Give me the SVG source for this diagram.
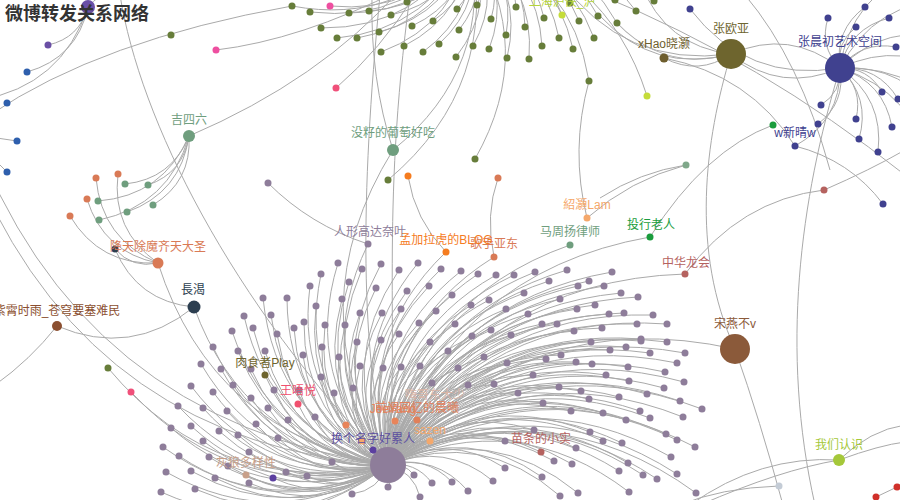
<svg xmlns="http://www.w3.org/2000/svg" width="900" height="500" viewBox="0 0 900 500">
<style>
.e path{fill:none;stroke:#aaa;stroke-width:1;vector-effect:non-scaling-stroke}
.m circle{fill:#8e7d9a}
.o circle{fill:#677d3a}
.b circle{fill:#40418f}
text{font-family:"Liberation Sans","Noto Sans CJK SC",sans-serif;font-size:12px;text-anchor:middle}
</style>
<rect width="900" height="500" fill="#fff"/>
<g id="connectors" class="e">
<!-- main hub edges -->
<path d="M0 0Q.5-.3 1 0" transform="matrix(-50 -202 202 -50 388 465)"/>
<path d="M0 0Q.5-.3 1 0" transform="matrix(-67 -191 191 -67 388 465)"/>
<path d="M0 0Q.5-.3 1 0" transform="matrix(-78 -179 179 -78 388 465)"/>
<path d="M0 0Q.5-.3 1 0" transform="matrix(-26 -196 196 -26 388 465)"/>
<path d="M0 0Q.5-.3 1 0" transform="matrix(-7 -201 201 -7 388 465)"/>
<path d="M0 0Q.5-.3 1 0" transform="matrix(-39 -183 183 -39 388 465)"/>
<path d="M0 0Q.5-.3 1 0" transform="matrix(-12 -177 177 -12 388 465)"/>
<path d="M0 0Q.5-.3 1 0" transform="matrix(11 -195 195 11 388 465)"/>
<path d="M0 0Q.5-.3 1 0" transform="matrix(30 -202 202 30 388 465)"/>
<path d="M0 0Q.5-.3 1 0" transform="matrix(53 -196 196 53 388 465)"/>
<path d="M0 0Q.5-.3 1 0" transform="matrix(73 -194 194 73 388 465)"/>
<path d="M0 0Q.5-.3 1 0" transform="matrix(90 -191 191 90 388 465)"/>
<path d="M0 0Q.5-.3 1 0" transform="matrix(108 -190 190 108 388 465)"/>
<path d="M0 0Q.5-.3 1 0" transform="matrix(126 -190 190 126 388 465)"/>
<path d="M0 0Q.5-.3 1 0" transform="matrix(147 -193 193 147 388 465)"/>
<path d="M0 0Q.5-.3 1 0" transform="matrix(179 -195 195 179 388 465)"/>
<path d="M0 0Q.5-.3 1 0" transform="matrix(201 -184 184 201 388 465)"/>
<path d="M0 0Q.5-.3 1 0" transform="matrix(190 -179 179 190 388 465)"/>
<path d="M0 0Q.5-.3 1 0" transform="matrix(161 -184 184 161 388 465)"/>
<path d="M0 0Q.5-.3 1 0" transform="matrix(136 -172 172 136 388 465)"/>
<path d="M0 0Q.5-.3 1 0" transform="matrix(172 -166 166 172 388 465)"/>
<path d="M0 0Q.5-.3 1 0" transform="matrix(207 -160 160 207 388 465)"/>
<path d="M0 0Q.5-.3 1 0" transform="matrix(189 -156 156 189 388 465)"/>
<path d="M0 0Q.5-.3 1 0" transform="matrix(154 -141 141 154 388 465)"/>
<path d="M0 0Q.5-.3 1 0" transform="matrix(169 -141 141 169 388 465)"/>
<path d="M0 0Q.5-.3 1 0" transform="matrix(186 -134 134 186 388 465)"/>
<path d="M0 0Q.5-.3 1 0" transform="matrix(140 -151 151 140 388 465)"/>
<path d="M0 0Q.5-.3 1 0" transform="matrix(118 -156 156 118 388 465)"/>
<path d="M0 0Q.5-.3 1 0" transform="matrix(101 -165 165 101 388 465)"/>
<path d="M0 0Q.5-.3 1 0" transform="matrix(83 -160 160 83 388 465)"/>
<path d="M0 0Q.5-.3 1 0" transform="matrix(64 -170 170 64 388 465)"/>
<path d="M0 0Q.5-.3 1 0" transform="matrix(41 -179 179 41 388 465)"/>
<path d="M0 0Q.5-.3 1 0" transform="matrix(19 -174 174 19 388 465)"/>
<path d="M0 0Q.5-.3 1 0" transform="matrix(48 -154 154 48 388 465)"/>
<path d="M0 0Q.5-.3 1 0" transform="matrix(67 -141 141 67 388 465)"/>
<path d="M0 0Q.5-.3 1 0" transform="matrix(103 -135 135 103 388 465)"/>
<path d="M0 0Q.5-.3 1 0" transform="matrix(123 -130 130 123 388 465)"/>
<path d="M0 0Q.5-.3 1 0" transform="matrix(84 -129 129 84 388 465)"/>
<path d="M0 0Q.5-.3 1 0" transform="matrix(31 -142 142 31 388 465)"/>
<path d="M0 0Q.5-.3 1 0" transform="matrix(13 -156 156 13 388 465)"/>
<path d="M0 0Q.5-.3 1 0" transform="matrix(-6 -152 152 -6 388 465)"/>
<path d="M0 0Q.5-.3 1 0" transform="matrix(-28 -152 152 -28 388 465)"/>
<path d="M0 0Q.5-.3 1 0" transform="matrix(-46 -166 166 -46 388 465)"/>
<path d="M0 0Q.5-.3 1 0" transform="matrix(-72 -159 159 -72 388 465)"/>
<path d="M0 0Q.5-.3 1 0" transform="matrix(-84 -143 143 -84 388 465)"/>
<path d="M0 0Q.5-.3 1 0" transform="matrix(-63 -140 140 -63 388 465)"/>
<path d="M0 0Q.5-.3 1 0" transform="matrix(-43 -140 140 -43 388 465)"/>
<path d="M0 0Q.5-.3 1 0" transform="matrix(11 -131 131 11 388 465)"/>
<path d="M0 0Q.5-.3 1 0" transform="matrix(-7 -125 125 -7 388 465)"/>
<path d="M0 0Q.5-.3 1 0" transform="matrix(-20 -221 221 -20 388 465)"/>
<path d="M0 0Q.5-.3 1 0" transform="matrix(224 -193 193 224 388 465)"/>
<path d="M0 0Q.5-.3 1 0" transform="matrix(216 -179 179 216 388 465)"/>
<path d="M0 0Q.5-.3 1 0" transform="matrix(233 -172 172 233 388 465)"/>
<path d="M0 0Q.5-.3 1 0" transform="matrix(250 -168 168 250 388 465)"/>
<path d="M0 0Q.5-.3 1 0" transform="matrix(221 -151 151 221 388 465)"/>
<path d="M0 0Q.5-.3 1 0" transform="matrix(236 -152 152 236 388 465)"/>
<path d="M0 0Q.5-.3 1 0" transform="matrix(265 -150 150 265 388 465)"/>
<path d="M0 0Q.5-.3 1 0" transform="matrix(249 -141 141 249 388 465)"/>
<path d="M0 0Q.5-.3 1 0" transform="matrix(279 -141 141 279 388 465)"/>
<path d="M0 0Q.5-.3 1 0" transform="matrix(214 -137 137 214 388 465)"/>
<path d="M0 0Q.5-.3 1 0" transform="matrix(253 -126 126 253 388 465)"/>
<path d="M0 0Q.5-.3 1 0" transform="matrix(203 -123 123 203 388 465)"/>
<path d="M0 0Q.5-.3 1 0" transform="matrix(253 -124 124 253 388 465)"/>
<path d="M0 0Q.5-.3 1 0" transform="matrix(279 -123 123 279 388 465)"/>
<path d="M0 0Q.5-.3 1 0" transform="matrix(222 -115 115 222 388 465)"/>
<path d="M0 0Q.5-.3 1 0" transform="matrix(238 -118 118 238 388 465)"/>
<path d="M0 0Q.5-.3 1 0" transform="matrix(262 -112 112 262 388 465)"/>
<path d="M0 0Q.5-.3 1 0" transform="matrix(297 -112 112 297 388 465)"/>
<path d="M0 0Q.5-.3 1 0" transform="matrix(173 -110 110 173 388 465)"/>
<path d="M0 0Q.5-.3 1 0" transform="matrix(158 -106 106 158 388 465)"/>
<path d="M0 0Q.5-.3 1 0" transform="matrix(188 -103 103 188 388 465)"/>
<path d="M0 0Q.5-.3 1 0" transform="matrix(204 -101 101 204 388 465)"/>
<path d="M0 0Q.5-.3 1 0" transform="matrix(240 -98 98 240 388 465)"/>
<path d="M0 0Q.5-.3 1 0" transform="matrix(289 -102 102 289 388 465)"/>
<path d="M0 0Q.5-.3 1 0" transform="matrix(277 -93 93 277 388 465)"/>
<path d="M0 0Q.5-.3 1 0" transform="matrix(218 -90 90 218 388 465)"/>
<path d="M0 0Q.5-.3 1 0" transform="matrix(145 -90 90 145 388 465)"/>
<path d="M0 0Q.5-.3 1 0" transform="matrix(241 -84 84 241 388 465)"/>
<path d="M0 0Q.5-.3 1 0" transform="matrix(296 -83 83 296 388 465)"/>
<path d="M0 0Q.5-.3 1 0" transform="matrix(171 -78 78 171 388 465)"/>
<path d="M0 0Q.5-.3 1 0" transform="matrix(193 -74 74 193 388 465)"/>
<path d="M0 0Q.5-.3 1 0" transform="matrix(276 -77 77 276 388 465)"/>
<path d="M0 0Q.5-.3 1 0" transform="matrix(259 -71 71 259 388 465)"/>
<path d="M0 0Q.5-.3 1 0" transform="matrix(231 -68 68 231 388 465)"/>
<path d="M0 0Q.5-.3 1 0" transform="matrix(201 -66 66 201 388 465)"/>
<path d="M0 0Q.5-.3 1 0" transform="matrix(292 -64 64 292 388 465)"/>
<path d="M0 0Q.5-.3 1 0" transform="matrix(155 -62 62 155 388 465)"/>
<path d="M0 0Q.5-.3 1 0" transform="matrix(314 -56 56 314 388 465)"/>
<path d="M0 0Q.5-.3 1 0" transform="matrix(183 -54 54 183 388 465)"/>
<path d="M0 0Q.5-.3 1 0" transform="matrix(215 -52 52 215 388 465)"/>
<path d="M0 0Q.5-.3 1 0" transform="matrix(252 -54 54 252 388 465)"/>
<path d="M0 0Q.5-.3 1 0" transform="matrix(295 -48 48 295 388 465)"/>
<path d="M0 0Q.5-.3 1 0" transform="matrix(262 -47 47 262 388 465)"/>
<path d="M0 0Q.5-.3 1 0" transform="matrix(238 -45 45 238 388 465)"/>
<path d="M0 0Q.5-.3 1 0" transform="matrix(146 -35 35 146 388 465)"/>
<path d="M0 0Q.5-.3 1 0" transform="matrix(202 -33 33 202 388 465)"/>
<path d="M0 0Q.5-.3 1 0" transform="matrix(278 -31 31 278 388 465)"/>
<path d="M0 0Q.5-.3 1 0" transform="matrix(289 -25 25 289 388 465)"/>
<path d="M0 0Q.5-.3 1 0" transform="matrix(215 -24 24 215 388 465)"/>
<path d="M0 0Q.5-.3 1 0" transform="matrix(234 -22 22 234 388 465)"/>
<path d="M0 0Q.5-.3 1 0" transform="matrix(307 -18 18 307 388 465)"/>
<path d="M0 0Q.5-.3 1 0" transform="matrix(188 -17 17 188 388 465)"/>
<path d="M0 0Q.5-.3 1 0" transform="matrix(283 -8 8 283 388 465)"/>
<path d="M0 0Q.5-.3 1 0" transform="matrix(166 -4 4 166 388 465)"/>
<path d="M0 0Q.5-.3 1 0" transform="matrix(184 -1 1 184 388 465)"/>
<path d="M0 0Q.5-.3 1 0" transform="matrix(240 -2 2 240 388 465)"/>
<path d="M0 0Q.5-.3 1 0" transform="matrix(231 6 -6 231 388 465)"/>
<path d="M0 0Q.5-.3 1 0" transform="matrix(289 9 -9 289 388 465)"/>
<path d="M0 0Q.5-.3 1 0" transform="matrix(255 10 -10 255 388 465)"/>
<path d="M0 0Q.5-.3 1 0" transform="matrix(269 14 -14 269 388 465)"/>
<path d="M0 0Q.5-.3 1 0" transform="matrix(154 12 -12 154 388 465)"/>
<path d="M0 0Q.5-.3 1 0" transform="matrix(241 27 -27 241 388 465)"/>
<path d="M0 0Q.5-.3 1 0" transform="matrix(308 28 -28 308 388 465)"/>
<path d="M0 0Q.5-.3 1 0" transform="matrix(190 28 -28 190 388 465)"/>
<path d="M0 0Q.5-.3 1 0" transform="matrix(172 31 -31 172 388 465)"/>
<path d="M0 0Q.5-.3 1 0" transform="matrix(-175 -118 118 -175 388 465)"/>
<path d="M0 0Q.5-.3 1 0" transform="matrix(-150 -114 114 -150 388 465)"/>
<path d="M0 0Q.5-.3 1 0" transform="matrix(-123 -114 114 -123 388 465)"/>
<path d="M0 0Q.5-.3 1 0" transform="matrix(-187 -101 101 -187 388 465)"/>
<path d="M0 0Q.5-.3 1 0" transform="matrix(-167 -96 96 -167 388 465)"/>
<path d="M0 0Q.5-.3 1 0" transform="matrix(-137 -96 96 -137 388 465)"/>
<path d="M0 0Q.5-.3 1 0" transform="matrix(-197 -79 79 -197 388 465)"/>
<path d="M0 0Q.5-.3 1 0" transform="matrix(-155 -80 80 -155 388 465)"/>
<path d="M0 0Q.5-.3 1 0" transform="matrix(-175 -73 73 -175 388 465)"/>
<path d="M0 0Q.5-.3 1 0" transform="matrix(-114 -75 75 -114 388 465)"/>
<path d="M0 0Q.5-.3 1 0" transform="matrix(-89 -75 75 -89 388 465)"/>
<path d="M0 0Q.5-.3 1 0" transform="matrix(-210 -59 59 -210 388 465)"/>
<path d="M0 0Q.5-.3 1 0" transform="matrix(-185 -57 57 -185 388 465)"/>
<path d="M0 0Q.5-.3 1 0" transform="matrix(-161 -54 54 -161 388 465)"/>
<path d="M0 0Q.5-.3 1 0" transform="matrix(-137 -67 67 -137 388 465)"/>
<path d="M0 0Q.5-.3 1 0" transform="matrix(-120 -57 57 -120 388 465)"/>
<path d="M0 0Q.5-.3 1 0" transform="matrix(-100 -45 45 -100 388 465)"/>
<path d="M0 0Q.5-.3 1 0" transform="matrix(-73 -48 48 -73 388 465)"/>
<path d="M0 0Q.5-.3 1 0" transform="matrix(-217 -37 37 -217 388 465)"/>
<path d="M0 0Q.5-.3 1 0" transform="matrix(-197 -39 39 -197 388 465)"/>
<path d="M0 0Q.5-.3 1 0" transform="matrix(-169 -34 34 -169 388 465)"/>
<path d="M0 0Q.5-.3 1 0" transform="matrix(-150 -30 30 -150 388 465)"/>
<path d="M0 0Q.5-.3 1 0" transform="matrix(-132 -41 41 -132 388 465)"/>
<path d="M0 0Q.5-.3 1 0" transform="matrix(-110 -27 27 -110 388 465)"/>
<path d="M0 0Q.5-.3 1 0" transform="matrix(-185 -24 24 -185 388 465)"/>
<path d="M0 0Q.5-.3 1 0" transform="matrix(-225 -18 18 -225 388 465)"/>
<path d="M0 0Q.5-.3 1 0" transform="matrix(-209 -9 9 -209 388 465)"/>
<path d="M0 0Q.5-.3 1 0" transform="matrix(-179 -8 8 -179 388 465)"/>
<path d="M0 0Q.5-.3 1 0" transform="matrix(-139 -13 13 -139 388 465)"/>
<path d="M0 0Q.5-.3 1 0" transform="matrix(-160 1 -1 -160 388 465)"/>
<path d="M0 0Q.5-.3 1 0" transform="matrix(-56 -3 3 -56 388 465)"/>
<path d="M0 0Q.5-.3 1 0" transform="matrix(-102 7 -7 -102 388 465)"/>
<path d="M0 0Q.5-.3 1 0" transform="matrix(-81 11 -11 -81 388 465)"/>
<path d="M0 0Q.5-.3 1 0" transform="matrix(-139 18 -18 -139 388 465)"/>
<path d="M0 0Q.5-.3 1 0" transform="matrix(-222 7 -7 -222 388 465)"/>
<path d="M0 0Q.5-.3 1 0" transform="matrix(-197 6 -6 -197 388 465)"/>
<path d="M0 0Q.5-.3 1 0" transform="matrix(-173 13 -13 -173 388 465)"/>
<path d="M0 0Q.5-.3 1 0" transform="matrix(-227 27 -27 -227 388 465)"/>
<path d="M0 0Q.5-.3 1 0" transform="matrix(-193 24 -24 -193 388 465)"/>
<path d="M0 0Q.5-.3 1 0" transform="matrix(-85 -110 110 -85 388 465)"/>
<path d="M0 0Q.5-.3 1 0" transform="matrix(-66 -118 118 -66 388 465)"/>
<path d="M0 0Q.5-.3 1 0" transform="matrix(-49 -108 108 -49 388 465)"/>
<path d="M0 0Q.5-.3 1 0" transform="matrix(-54 -72 72 -54 388 465)"/>
<path d="M0 0Q.5-.3 1 0" transform="matrix(-67 -88 88 -67 388 465)"/>
<path d="M0 0Q.5-.3 1 0" transform="matrix(-31 -123 123 -31 388 465)"/>
<path d="M0 0Q.5-.3 1 0" transform="matrix(42 -123 123 42 388 465)"/>
<path d="M0 0Q.5-.3 1 0" transform="matrix(-28 -99 99 -28 388 465)"/>
<path d="M0 0Q.5-.3 1 0" transform="matrix(-5 -97 97 -5 388 465)"/>
<path d="M0 0Q.5-.3 1 0" transform="matrix(13 -98 98 13 388 465)"/>
<path d="M0 0Q.5-.3 1 0" transform="matrix(32 -99 99 32 388 465)"/>
<path d="M0 0Q.5-.3 1 0" transform="matrix(60 -114 114 60 388 465)"/>
<path d="M0 0Q.5-.3 1 0" transform="matrix(70 -97 97 70 388 465)"/>
<path d="M0 0Q.5-.3 1 0" transform="matrix(96 -108 108 96 388 465)"/>
<path d="M0 0Q.5-.3 1 0" transform="matrix(119 -102 102 119 388 465)"/>
<path d="M0 0Q.5-.3 1 0" transform="matrix(44 -82 82 44 388 465)"/>
<path d="M0 0Q.5-.3 1 0" transform="matrix(80 -80 80 80 388 465)"/>
<path d="M0 0Q.5-.3 1 0" transform="matrix(106 -81 81 106 388 465)"/>
<path d="M0 0Q.5-.3 1 0" transform="matrix(130 -72 72 130 388 465)"/>
<path d="M0 0Q.5-.3 1 0" transform="matrix(-35 -77 77 -35 388 465)"/>
<path d="M0 0Q.5-.3 1 0" transform="matrix(117 -24 24 117 388 465)"/>
<path d="M0 0Q.5-.3 1 0" transform="matrix(117 3 -3 117 388 465)"/>
<path d="M0 0Q.5-.3 1 0" transform="matrix(105 16 -16 105 388 465)"/>
<path d="M0 0Q.5-.3 1 0" transform="matrix(80 26 -26 80 388 465)"/>
<path d="M0 0Q.5-.3 1 0" transform="matrix(64 17 -17 64 388 465)"/>
<path d="M0 0Q.5-.3 1 0" transform="matrix(44 18 -18 44 388 465)"/>
<path d="M0 0Q.5-.3 1 0" transform="matrix(26 10 -10 26 388 465)"/>
<path d="M0 0Q.5-.3 1 0" transform="matrix(0 22 -22 0 388 465)"/>
<path d="M0 0Q.5-.3 1 0" transform="matrix(-125 -167 167 -125 388 465)"/>
<path d="M0 0Q.5-.3 1 0" transform="matrix(-101 -167 167 -101 388 465)"/>
<path d="M0 0Q.5-.3 1 0" transform="matrix(-144 -149 149 -144 388 465)"/>
<path d="M0 0Q.5-.3 1 0" transform="matrix(-117 -150 150 -117 388 465)"/>
<path d="M0 0Q.5-.3 1 0" transform="matrix(-135 -137 137 -135 388 465)"/>
<path d="M0 0Q.5-.3 1 0" transform="matrix(-156 -134 134 -156 388 465)"/>
<path d="M0 0Q.5-.3 1 0" transform="matrix(-111 -131 131 -111 388 465)"/>
<path d="M0 0Q.5-.3 1 0" transform="matrix(-94 -137 137 -94 388 465)"/>
<path d="M0 0Q.5-.3 1 0" transform="matrix(-36 29 -29 -36 388 465)"/>
<path d="M0 0Q.5-.3 1 0" transform="matrix(32 32 -32 32 388 465)"/>
<path d="M0 0Q.5-.3 1 0" transform="matrix(-123 -90 90 -123 388 465)"/>
<path d="M0 0Q.5-.3 1 0" transform="matrix(-90 -61 61 -90 388 465)"/>
<path d="M0 0Q.5-.3 1 0" transform="matrix(-142 10 -10 -142 388 465)"/>
<path d="M0 0Q.5-.3 1 0" transform="matrix(-15 -15 15 -15 388 465)"/>
<path d="M0 0Q.5-.3 1 0" transform="matrix(153 -13 13 153 388 465)"/>
<path d="M0 0Q.5-.3 1 0" transform="matrix(42 -24 24 42 388 465)"/>
<path d="M0 0Q.5-.3 1 0" transform="matrix(7 -44 44 7 388 465)"/>
<path d="M0 0Q.5-.3 1 0" transform="matrix(29 -45 45 29 388 465)"/>
<path d="M0 0Q.5-.3 1 0" transform="matrix(-42 -40 40 -42 388 465)"/>
<path d="M0 0Q.5-.3 1 0" transform="matrix(-26 -24 24 -26 388 465)"/>
<path d="M0 0Q.5-.3 1 0" transform="matrix(58 -213 213 58 388 465)"/>
<path d="M0 0Q.5-.3 1 0" transform="matrix(106 -208 208 106 388 465)"/>
<path d="M0 0Q.5-.3 1 0" transform="matrix(182 -220 220 182 388 465)"/>
<path d="M0 0Q.5-.3 1 0" transform="matrix(262 -228 228 262 388 465)"/>
<path d="M0 0Q.5-.3 1 0" transform="matrix(297 -191 191 297 388 465)"/>
<path d="M0 0Q.5-.3 1 0" transform="matrix(347 -116 116 347 388 465)"/>
<path d="M0 0Q.5-.3 1 0" transform="matrix(-230 -202 202 -230 388 465)"/>
<path d="M0 0Q.5-.3 1 0" transform="matrix(-194 -158 158 -194 388 465)"/>
<path d="M0 0Q.5-.3 1 0" transform="matrix(5 -315 315 5 388 465)"/>
<path d="M0 0Q.5-.3 1 0" transform="matrix(-280 -97 97 -280 388 465)"/>
<path d="M0 0Q.5-.3 1 0" transform="matrix(-257 -73 73 -257 388 465)"/>
<path d="M0 0Q.5-.3 1 0" transform="matrix(-115 13 -13 -115 388 465)"/>
<path d="M0 0Q.5-.3 1 0" transform="matrix(-408 -285 285 -408 388 465)"/>
<path d="M0 0Q.5-.3 1 0" transform="matrix(-418 -340 340 -418 388 465)"/>
<!-- top olive hub edges (hub off-canvas) -->
<path d="M0 0Q.5-.3 1 0" transform="matrix(-160 72 -72 -160 470 -60)"/>
<path d="M0 0Q.5-.3 1 0" transform="matrix(-121 73 -73 -121 470 -60)"/>
<path d="M0 0Q.5-.3 1 0" transform="matrix(-101 71 -71 -101 470 -60)"/>
<path d="M0 0Q.5-.3 1 0" transform="matrix(-149 88 -88 -149 470 -60)"/>
<path d="M0 0Q.5-.3 1 0" transform="matrix(-133 98 -98 -133 470 -60)"/>
<path d="M0 0Q.5-.3 1 0" transform="matrix(-113 98 -98 -113 470 -60)"/>
<path d="M0 0Q.5-.3 1 0" transform="matrix(-79 75 -75 -79 470 -60)"/>
<path d="M0 0Q.5-.3 1 0" transform="matrix(-63 62 -62 -63 470 -60)"/>
<path d="M0 0Q.5-.3 1 0" transform="matrix(-91 92 -92 -91 470 -60)"/>
<path d="M0 0Q.5-.3 1 0" transform="matrix(-58 86 -86 -58 470 -60)"/>
<path d="M0 0Q.5-.3 1 0" transform="matrix(-37 81 -81 -37 470 -60)"/>
<path d="M0 0Q.5-.3 1 0" transform="matrix(-89 112 -112 -89 470 -60)"/>
<path d="M0 0Q.5-.3 1 0" transform="matrix(-66 106 -106 -66 470 -60)"/>
<path d="M0 0Q.5-.3 1 0" transform="matrix(-47 112 -112 -47 470 -60)"/>
<path d="M0 0Q.5-.3 1 0" transform="matrix(-31 104 -104 -31 470 -60)"/>
<path d="M0 0Q.5-.3 1 0" transform="matrix(-13 69 -69 -13 470 -60)"/>
<path d="M0 0Q.5-.3 1 0" transform="matrix(-11 90 -90 -11 470 -60)"/>
<path d="M0 0Q.5-.3 1 0" transform="matrix(-14 117 -117 -14 470 -60)"/>
<path d="M0 0Q.5-.3 1 0" transform="matrix(7 65 -65 7 470 -60)"/>
<path d="M0 0Q.5-.3 1 0" transform="matrix(3 106 -106 3 470 -60)"/>
<path d="M0 0Q.5-.3 1 0" transform="matrix(21 79 -79 21 470 -60)"/>
<path d="M0 0Q.5-.3 1 0" transform="matrix(19 109 -109 19 470 -60)"/>
<path d="M0 0Q.5-.3 1 0" transform="matrix(36 95 -95 36 470 -60)"/>
<path d="M0 0Q.5-.3 1 0" transform="matrix(37 118 -118 37 470 -60)"/>
<path d="M0 0Q.5-.3 1 0" transform="matrix(46 67 -67 46 470 -60)"/>
<path d="M0 0Q.5-.3 1 0" transform="matrix(55 87 -87 55 470 -60)"/>
<path d="M0 0Q.5-.3 1 0" transform="matrix(59 119 -119 59 470 -60)"/>
<path d="M0 0Q.5-.3 1 0" transform="matrix(74 78 -78 74 470 -60)"/>
<path d="M0 0Q.5-.3 1 0" transform="matrix(72 106 -106 72 470 -60)"/>
<path d="M0 0Q.5-.3 1 0" transform="matrix(89 98 -98 89 470 -60)"/>
<path d="M0 0Q.5-.3 1 0" transform="matrix(103 109 -109 103 470 -60)"/>
<path d="M0 0Q.5-.3 1 0" transform="matrix(109 81 -81 109 470 -60)"/>
<path d="M0 0Q.5-.3 1 0" transform="matrix(124 98 -98 124 470 -60)"/>
<path d="M0 0Q.5-.3 1 0" transform="matrix(128 76 -76 128 470 -60)"/>
<path d="M0 0Q.5-.3 1 0" transform="matrix(119 141 -141 119 470 -60)"/>
<path d="M0 0Q.5-.3 1 0" transform="matrix(145 60 -60 145 470 -60)"/>
<path d="M0 0Q.5-.3 1 0" transform="matrix(166 71 -71 166 470 -60)"/>
<path d="M0 0Q.5-.3 1 0" transform="matrix(184 61 -61 184 470 -60)"/>
<path d="M0 0Q.5-.3 1 0" transform="matrix(147 83 -83 147 470 -60)"/>
<path d="M0 0Q.5-.3 1 0" transform="matrix(-178 66 -66 -178 470 -60)"/>
<path d="M0 0Q.5-.3 1 0" transform="matrix(5 219 -219 5 470 -60)"/>
<path d="M0 0Q.5-.3 1 0" transform="matrix(-82 240 -240 -82 470 -60)"/>
<path d="M0 0Q.5-.3 1 0" transform="matrix(177 156 -156 177 470 -60)"/>
<path d="M0 0Q.5-.3 1 0" transform="matrix(92 75 -75 92 470 -60)"/>
<path d="M0 0Q.5-.3 1 0" transform="matrix(100 63 -63 100 470 -60)"/>
<path d="M0 0Q.5-.3 1 0" transform="matrix(-140 66 -66 -140 470 -60)"/>
<path d="M0 0Q.5-.3 1 0" transform="matrix(-77 210 -210 -77 470 -60)"/>
<!-- 张晨初艺术空间 edges -->
<path d="M0 0Q.5-.3 1 0" transform="matrix(-12 -50 50 -12 840 68)"/>
<path d="M0 0Q.5-.3 1 0" transform="matrix(25 -61 61 25 840 68)"/>
<path d="M0 0Q.5-.3 1 0" transform="matrix(16 -41 41 16 840 68)"/>
<path d="M0 0Q.5-.3 1 0" transform="matrix(49 -50 50 49 840 68)"/>
<path d="M0 0Q.5-.3 1 0" transform="matrix(56 -21 21 56 840 68)"/>
<path d="M0 0Q.5-.3 1 0" transform="matrix(42 24 -24 42 840 68)"/>
<path d="M0 0Q.5-.3 1 0" transform="matrix(58 31 -31 58 840 68)"/>
<path d="M0 0Q.5-.3 1 0" transform="matrix(52 59 -59 52 840 68)"/>
<path d="M0 0Q.5-.3 1 0" transform="matrix(-19 37 -37 -19 840 68)"/>
<path d="M0 0Q.5-.3 1 0" transform="matrix(-22 56 -56 -22 840 68)"/>
<path d="M0 0Q.5-.3 1 0" transform="matrix(16 51 -51 16 840 68)"/>
<path d="M0 0Q.5-.3 1 0" transform="matrix(19 71 -71 19 840 68)"/>
<path d="M0 0Q.5-.3 1 0" transform="matrix(38 84 -84 38 840 68)"/>
<path d="M0 0Q.5-.3 1 0" transform="matrix(-45 78 -78 -45 840 68)"/>
<path d="M0 0Q.5-.3 1 0" transform="matrix(-150 -59 59 -150 840 68)"/>
<path d="M0 0Q.5-.3 1 0" transform="matrix(110 -28 28 110 840 68)"/>
<path d="M0 0Q.5-.3 1 0" transform="matrix(120 12 -12 120 840 68)"/>
<path d="M0 0Q.5-.3 1 0" transform="matrix(100 52 -52 100 840 68)"/>
<path d="M0 0Q.5-.3 1 0" transform="matrix(90 102 -102 90 840 68)"/>
<path d="M0 0Q.5-.3 1 0" transform="matrix(80 -98 98 80 840 68)"/>
<path d="M0 0Q.5-.3 1 0" transform="matrix(110 -68 68 110 840 68)"/>
<path d="M0 0Q.5-.3 1 0" transform="matrix(130 72 -72 130 840 68)"/>
<path d="M0 0Q.5-.3 1 0" transform="matrix(-109 -14 14 -109 840 68)"/>
<!-- 张欧亚 edges -->
<path d="M0 0Q.5-.3 1 0" transform="matrix(109 14 -14 109 731 54)"/>
<path d="M0 0Q.5-.3 1 0" transform="matrix(-67 4 -4 -67 731 54)"/>
<path d="M0 0Q.5-.3 1 0" transform="matrix(-131 -38 38 -131 731 54)"/>
<path d="M0 0Q.5-.3 1 0" transform="matrix(-114 -31 31 -114 731 54)"/>
<path d="M0 0Q.5-.3 1 0" transform="matrix(-171 -74 74 -171 731 54)"/>
<path d="M0 0Q.5-.3 1 0" transform="matrix(-90 -70 70 -90 731 54)"/>
<!-- 吉四六 -->
<path d="M0 0Q.5-.3 1 0" transform="matrix(-64 48 -48 -64 189 136)"/>
<path d="M0 0Q.5-.3 1 0" transform="matrix(-41 49 -49 -41 189 136)"/>
<path d="M0 0Q.5-.3 1 0" transform="matrix(-91 65 -65 -91 189 136)"/>
<path d="M0 0Q.5-.3 1 0" transform="matrix(-62 76 -76 -62 189 136)"/>
<path d="M0 0Q.5-.3 1 0" transform="matrix(-36 69 -69 -36 189 136)"/>
<path d="M0 0Q.5-.3 1 0" transform="matrix(-90 84 -84 -90 189 136)"/>
<!-- 降天除魔齐天大圣 -->
<path d="M0 0Q.5-.3 1 0" transform="matrix(-62 -85 85 -62 158 263)"/>
<path d="M0 0Q.5-.3 1 0" transform="matrix(-40 -89 89 -40 158 263)"/>
<path d="M0 0Q.5-.3 1 0" transform="matrix(-71 -64 64 -71 158 263)"/>
<path d="M0 0Q.5-.3 1 0" transform="matrix(-88 -47 47 -88 158 263)"/>
<path d="M0 0Q.5-.3 1 0" transform="matrix(-43 -14 14 -43 158 263)"/>
<!-- 長渴 -->
<path d="M0 0Q.5-.3 1 0" transform="matrix(-79 -58 58 -79 194 307)"/>
<path d="M0 0Q.5-.3 1 0" transform="matrix(-137 19 -19 -137 194 307)"/>
<!-- top-left purple -->
<path d="M0 0Q.5-.3 1 0" transform="matrix(-40 38 -38 -40 88 7)"/>
<path d="M0 0Q.5-.3 1 0" transform="matrix(-61 65 -65 -61 88 7)"/>
<path d="M0 0Q.5-.3 1 0" transform="matrix(-108 93 -93 -108 88 7)"/>
<path d="M0 0Q.5-.3 1 0" transform="matrix(52 -17 17 52 88 7)"/>
<!-- assorted long edges -->
<path d="M-10 115Q100 40 292 6"/>
<path d="M-10 137L17 141"/>
<path d="M-5 160L7 172"/>
<path d="M216 50Q300 40 400 -10"/>
<path d="M336 88Q380 50 415 -5"/>
<path d="M189 136Q320 80 400 -10"/>
<path d="M393 150Q370 80 372 -5"/>
<path d="M388 465C360 350 360 200 380 -5"/>
<path d="M388 465C400 330 380 220 410 -5"/>
<path d="M120 -5C140 120 230 300 388 465"/>
<path d="M268 183Q310 225 368 244"/>
<path d="M57 326Q30 360 -5 385"/>
<path d="M408 176Q415 220 446 252"/>
<path d="M498 178Q485 215 494 257"/>
<path d="M587 218Q570 150 589 81"/>
<path d="M587 218Q630 180 686 165"/>
<path d="M686 165Q640 172 600 198"/>
<path d="M773 125Q705 150 650 237"/>
<path d="M685 274Q740 200 824 190"/>
<path d="M664 58Q750 75 795 146"/>
<path d="M795 146Q850 160 883 204"/>
<path d="M824 190Q870 170 905 150"/>
<path d="M735 349Q760 420 783 505"/>
<path d="M840 68C800 200 780 350 815 505"/>
<path d="M731 54C705 140 690 250 735 349"/>
<path d="M600 -5Q760 60 905 175"/>
<path d="M745 -5Q800 60 830 170"/>
<path d="M839 460Q760 455 690 505"/>
<path d="M779 486Q720 488 680 505"/>
<path d="M839 460Q870 430 905 425"/>
<path d="M839 460Q880 445 905 442"/>
<path d="M876 497L897 487L905 480"/>
<path d="M700 505Q780 470 839 460"/>
</g>
<g id="main-leaves" class="m">
<circle cx="338" cy="263" r="3.5"/><circle cx="321" cy="274" r="3.5"/><circle cx="310" cy="286" r="3.5"/><circle cx="362" cy="269" r="3.5"/><circle cx="381" cy="264" r="3.5"/><circle cx="349" cy="282" r="3.5"/><circle cx="376" cy="288" r="3.5"/><circle cx="399" cy="270" r="3.5"/><circle cx="418" cy="263" r="3.5"/><circle cx="441" cy="269" r="3.5"/><circle cx="461" cy="271" r="3.5"/><circle cx="478" cy="274" r="3.5"/><circle cx="496" cy="275" r="3.5"/><circle cx="514" cy="275" r="3.5"/><circle cx="535" cy="272" r="3.5"/><circle cx="567" cy="270" r="3.5"/><circle cx="589" cy="281" r="3.5"/><circle cx="578" cy="286" r="3.5"/><circle cx="549" cy="281" r="3.5"/><circle cx="524" cy="293" r="3.5"/><circle cx="560" cy="299" r="3.5"/><circle cx="595" cy="305" r="3.5"/><circle cx="577" cy="309" r="3.5"/><circle cx="542" cy="324" r="3.5"/><circle cx="557" cy="324" r="3.5"/><circle cx="574" cy="331" r="3.5"/><circle cx="528" cy="314" r="3.5"/><circle cx="506" cy="309" r="3.5"/><circle cx="489" cy="300" r="3.5"/><circle cx="471" cy="305" r="3.5"/><circle cx="452" cy="295" r="3.5"/><circle cx="429" cy="286" r="3.5"/><circle cx="407" cy="291" r="3.5"/><circle cx="436" cy="311" r="3.5"/><circle cx="455" cy="324" r="3.5"/><circle cx="491" cy="330" r="3.5"/><circle cx="511" cy="335" r="3.5"/><circle cx="472" cy="336" r="3.5"/><circle cx="419" cy="323" r="3.5"/><circle cx="401" cy="309" r="3.5"/><circle cx="382" cy="313" r="3.5"/><circle cx="360" cy="313" r="3.5"/><circle cx="342" cy="299" r="3.5"/><circle cx="316" cy="306" r="3.5"/><circle cx="304" cy="322" r="3.5"/><circle cx="325" cy="325" r="3.5"/><circle cx="345" cy="325" r="3.5"/><circle cx="399" cy="334" r="3.5"/><circle cx="381" cy="340" r="3.5"/>
<circle cx="612" cy="272" r="3.5"/><circle cx="604" cy="286" r="3.5"/><circle cx="621" cy="293" r="3.5"/><circle cx="638" cy="297" r="3.5"/><circle cx="609" cy="314" r="3.5"/><circle cx="624" cy="313" r="3.5"/><circle cx="653" cy="315" r="3.5"/><circle cx="637" cy="324" r="3.5"/><circle cx="667" cy="324" r="3.5"/><circle cx="602" cy="328" r="3.5"/><circle cx="641" cy="339" r="3.5"/>
<circle cx="591" cy="342" r="3.5"/><circle cx="641" cy="341" r="3.5"/><circle cx="667" cy="342" r="3.5"/><circle cx="610" cy="350" r="3.5"/><circle cx="626" cy="347" r="3.5"/><circle cx="650" cy="353" r="3.5"/><circle cx="685" cy="353" r="3.5"/><circle cx="561" cy="355" r="3.5"/><circle cx="546" cy="359" r="3.5"/><circle cx="576" cy="362" r="3.5"/><circle cx="592" cy="364" r="3.5"/><circle cx="628" cy="367" r="3.5"/><circle cx="677" cy="363" r="3.5"/><circle cx="665" cy="372" r="3.5"/><circle cx="606" cy="375" r="3.5"/><circle cx="533" cy="375" r="3.5"/><circle cx="629" cy="381" r="3.5"/><circle cx="684" cy="382" r="3.5"/><circle cx="559" cy="387" r="3.5"/><circle cx="581" cy="391" r="3.5"/><circle cx="664" cy="388" r="3.5"/><circle cx="647" cy="394" r="3.5"/><circle cx="619" cy="397" r="3.5"/><circle cx="589" cy="399" r="3.5"/><circle cx="680" cy="401" r="3.5"/><circle cx="543" cy="403" r="3.5"/><circle cx="702" cy="409" r="3.5"/><circle cx="571" cy="411" r="3.5"/><circle cx="603" cy="413" r="3.5"/><circle cx="640" cy="411" r="3.5"/><circle cx="683" cy="417" r="3.5"/><circle cx="650" cy="418" r="3.5"/><circle cx="626" cy="420" r="3.5"/><circle cx="534" cy="430" r="3.5"/><circle cx="590" cy="432" r="3.5"/><circle cx="666" cy="434" r="3.5"/><circle cx="677" cy="440" r="3.5"/><circle cx="603" cy="441" r="3.5"/><circle cx="622" cy="443" r="3.5"/><circle cx="695" cy="447" r="3.5"/><circle cx="576" cy="448" r="3.5"/><circle cx="671" cy="457" r="3.5"/><circle cx="554" cy="461" r="3.5"/><circle cx="572" cy="464" r="3.5"/><circle cx="628" cy="463" r="3.5"/><circle cx="619" cy="471" r="3.5"/><circle cx="677" cy="474" r="3.5"/><circle cx="643" cy="475" r="3.5"/><circle cx="657" cy="479" r="3.5"/><circle cx="542" cy="477" r="3.5"/><circle cx="629" cy="492" r="3.5"/><circle cx="696" cy="493" r="3.5"/><circle cx="578" cy="493" r="3.5"/><circle cx="560" cy="496" r="3.5"/>
<circle cx="213" cy="347" r="3.5"/><circle cx="238" cy="351" r="3.5"/><circle cx="265" cy="351" r="3.5"/><circle cx="201" cy="364" r="3.5"/><circle cx="221" cy="369" r="3.5"/><circle cx="251" cy="369" r="3.5"/><circle cx="191" cy="386" r="3.5"/><circle cx="233" cy="385" r="3.5"/><circle cx="213" cy="392" r="3.5"/><circle cx="274" cy="390" r="3.5"/><circle cx="299" cy="390" r="3.5"/><circle cx="178" cy="406" r="3.5"/><circle cx="203" cy="408" r="3.5"/><circle cx="227" cy="411" r="3.5"/><circle cx="251" cy="398" r="3.5"/><circle cx="268" cy="408" r="3.5"/><circle cx="288" cy="420" r="3.5"/><circle cx="315" cy="417" r="3.5"/><circle cx="171" cy="428" r="3.5"/><circle cx="191" cy="426" r="3.5"/><circle cx="219" cy="431" r="3.5"/><circle cx="238" cy="435" r="3.5"/><circle cx="256" cy="424" r="3.5"/><circle cx="278" cy="438" r="3.5"/><circle cx="203" cy="441" r="3.5"/><circle cx="163" cy="447" r="3.5"/><circle cx="179" cy="456" r="3.5"/><circle cx="209" cy="457" r="3.5"/><circle cx="249" cy="452" r="3.5"/><circle cx="228" cy="466" r="3.5"/><circle cx="332" cy="462" r="3.5"/><circle cx="286" cy="472" r="3.5"/><circle cx="307" cy="476" r="3.5"/><circle cx="249" cy="483" r="3.5"/><circle cx="166" cy="472" r="3.5"/><circle cx="191" cy="471" r="3.5"/><circle cx="215" cy="478" r="3.5"/><circle cx="161" cy="492" r="3.5"/><circle cx="195" cy="489" r="3.5"/><circle cx="303" cy="355" r="3.5"/><circle cx="322" cy="347" r="3.5"/><circle cx="339" cy="357" r="3.5"/><circle cx="334" cy="393" r="3.5"/><circle cx="321" cy="377" r="3.5"/>
<circle cx="357" cy="342" r="3.5"/><circle cx="430" cy="342" r="3.5"/><circle cx="360" cy="366" r="3.5"/><circle cx="383" cy="368" r="3.5"/><circle cx="401" cy="367" r="3.5"/><circle cx="420" cy="366" r="3.5"/><circle cx="448" cy="351" r="3.5"/><circle cx="458" cy="368" r="3.5"/><circle cx="484" cy="357" r="3.5"/><circle cx="507" cy="363" r="3.5"/><circle cx="432" cy="383" r="3.5"/><circle cx="468" cy="385" r="3.5"/><circle cx="494" cy="384" r="3.5"/><circle cx="518" cy="393" r="3.5"/><circle cx="353" cy="388" r="3.5"/><circle cx="505" cy="441" r="3.5"/><circle cx="505" cy="468" r="3.5"/><circle cx="493" cy="481" r="3.5"/><circle cx="468" cy="491" r="3.5"/><circle cx="452" cy="482" r="3.5"/><circle cx="432" cy="483" r="3.5"/><circle cx="414" cy="475" r="3.5"/><circle cx="388" cy="487" r="3.5"/>
<circle cx="263" cy="298" r="3.5"/><circle cx="287" cy="298" r="3.5"/><circle cx="244" cy="316" r="3.5"/><circle cx="271" cy="315" r="3.5"/><circle cx="253" cy="328" r="3.5"/><circle cx="232" cy="331" r="3.5"/><circle cx="277" cy="334" r="3.5"/><circle cx="294" cy="328" r="3.5"/><circle cx="352" cy="494" r="3.5"/><circle cx="420" cy="497" r="3.5"/>
<circle cx="268" cy="183" r="3.5"/>
</g>
<g id="top-leaves" class="o">
<circle cx="310" cy="12" r="3.5"/><circle cx="349" cy="13" r="3.5"/><circle cx="369" cy="11" r="3.5"/><circle cx="321" cy="28" r="3.5"/><circle cx="337" cy="38" r="3.5"/><circle cx="357" cy="38" r="3.5"/><circle cx="391" cy="15" r="3.5"/><circle cx="407" cy="2" r="3.5"/><circle cx="379" cy="32" r="3.5"/><circle cx="412" cy="26" r="3.5"/><circle cx="433" cy="21" r="3.5"/><circle cx="381" cy="52" r="3.5"/><circle cx="404" cy="46" r="3.5"/><circle cx="423" cy="52" r="3.5"/><circle cx="439" cy="44" r="3.5"/><circle cx="457" cy="9" r="3.5"/><circle cx="459" cy="30" r="3.5"/><circle cx="456" cy="57" r="3.5"/><circle cx="477" cy="5" r="3.5"/><circle cx="473" cy="46" r="3.5"/><circle cx="491" cy="19" r="3.5"/><circle cx="489" cy="49" r="3.5"/><circle cx="506" cy="35" r="3.5"/><circle cx="507" cy="58" r="3.5"/><circle cx="516" cy="7" r="3.5"/><circle cx="525" cy="27" r="3.5"/><circle cx="529" cy="59" r="3.5"/><circle cx="544" cy="18" r="3.5"/><circle cx="542" cy="46" r="3.5"/><circle cx="559" cy="38" r="3.5"/><circle cx="573" cy="49" r="3.5"/><circle cx="579" cy="21" r="3.5"/><circle cx="594" cy="38" r="3.5"/><circle cx="598" cy="16" r="3.5"/><circle cx="589" cy="81" r="3.5"/><circle cx="615" cy="0" r="3.5"/><circle cx="636" cy="11" r="3.5"/><circle cx="654" cy="1" r="3.5"/><circle cx="617" cy="23" r="3.5"/><circle cx="292" cy="6" r="3.5"/><circle cx="171" cy="35" r="3.5"/><circle cx="475" cy="159" r="3.5"/><circle cx="388" cy="180" r="3.5"/><circle cx="570" cy="3" r="3.5"/><circle cx="108" cy="368" r="3.5" fill="#6e652e"/>
</g>
<g id="blue-leaves" class="b">
<circle cx="828" cy="18" r="3.5"/><circle cx="865" cy="7" r="3.5"/><circle cx="856" cy="27" r="3.5"/><circle cx="889" cy="18" r="3.5"/><circle cx="896" cy="47" r="3.5"/><circle cx="882" cy="92" r="3.5"/><circle cx="898" cy="99" r="3.5"/><circle cx="892" cy="127" r="3.5"/><circle cx="821" cy="105" r="3.5"/><circle cx="818" cy="124" r="3.5"/><circle cx="856" cy="119" r="3.5"/><circle cx="859" cy="139" r="3.5"/><circle cx="878" cy="152" r="3.5"/><circle cx="690" cy="9" r="3.5"/><circle cx="883" cy="204" r="3.5"/>
</g>
<g id="misc-leaves">
<circle cx="48" cy="45" r="3.5" fill="#6a4fa5"/>
<circle cx="27" cy="72" r="3.5" fill="#2e5fad"/><circle cx="7" cy="103" r="3.5" fill="#2e5fad"/><circle cx="17" cy="141" r="3.5" fill="#2e5fad"/><circle cx="7" cy="172" r="3.5" fill="#2e5fad"/>
<circle cx="216" cy="50" r="3.5" fill="#ee4fa0"/><circle cx="330" cy="6" r="3.5" fill="#ee4fa0"/><circle cx="336" cy="88" r="3.5" fill="#f0507a"/><circle cx="131" cy="392" r="3.5" fill="#f0507a"/>
<circle cx="96" cy="178" r="3.5" fill="#d97a56"/><circle cx="118" cy="174" r="3.5" fill="#d97a56"/><circle cx="87" cy="199" r="3.5" fill="#d97a56"/><circle cx="70" cy="216" r="3.5" fill="#d97a56"/>
<circle cx="125" cy="184" r="3.5" fill="#6f9e7e"/><circle cx="148" cy="185" r="3.5" fill="#6f9e7e"/><circle cx="98" cy="201" r="3.5" fill="#6f9e7e"/><circle cx="127" cy="212" r="3.5" fill="#6f9e7e"/><circle cx="153" cy="205" r="3.5" fill="#6f9e7e"/><circle cx="99" cy="220" r="3.5" fill="#6f9e7e"/>
<circle cx="115" cy="249" r="3.5" fill="#2c3e50"/>
<circle cx="408" cy="176" r="3.5" fill="#f57c1f"/><circle cx="498" cy="178" r="3.5" fill="#d97a56"/>
<circle cx="647" cy="96" r="3.5" fill="#c5dc3a"/><circle cx="562" cy="15" r="3.5" fill="#c5dc3a"/>
<circle cx="773" cy="125" r="3.5" fill="#1a9c3c"/><circle cx="686" cy="165" r="3.5" fill="#7fa88a"/>
<circle cx="824" cy="190" r="3.5" fill="#b5625f"/>
<circle cx="346" cy="425" r="3.5" fill="#e8845a"/><circle cx="362" cy="441" r="3.5" fill="#f5a86b"/>
<circle cx="273" cy="478" r="3.5" fill="#5c3fa0"/>
<circle cx="779" cy="486" r="3.5" fill="#c4ccd6"/>
<circle cx="876" cy="497" r="3.5" fill="#d0302a"/><circle cx="897" cy="487" r="3.5" fill="#d0302a"/>
</g>
<g id="n-hub-main"><circle cx="388" cy="465" r="18" fill="#8e7d9a"/></g>
<g id="n-topleft"><circle cx="88" cy="7" r="7" fill="#6a4fa5"/></g>
<g id="n-zhangchenchu"><circle cx="840" cy="68" r="15" fill="#40418f"/><text x="840" y="46" fill="#40418f">张晨初艺术空间</text></g>
<g id="n-zhangouya"><circle cx="731" cy="54" r="15" fill="#6e652e"/><text x="731" y="33" fill="#6e652e">张欧亚</text></g>
<g id="n-xhao"><circle cx="664" cy="58" r="4.5" fill="#6e5e2e"/><text x="664" y="48" fill="#6e5e2e">xHao晓灏</text></g>
<g id="n-songyan"><circle cx="735" cy="349" r="15" fill="#8b5a3a"/><text x="735" y="328" fill="#8b5a3a">宋燕不v</text></g>
<g id="n-jisiliu"><circle cx="189" cy="136" r="6" fill="#6f9e7e"/><text x="189" y="124" fill="#6f9e7e">吉四六</text></g>
<g id="n-meizi"><circle cx="393" cy="150" r="6" fill="#6f9e7e"/><text x="393" y="137" fill="#6f9e7e">没籽的葡萄好吃</text></g>
<g id="n-jiangtian"><circle cx="158" cy="263" r="5.5" fill="#d97a56"/><text x="158" y="251" fill="#d97a56">降天除魔齐天大圣</text></g>
<g id="n-changke"><circle cx="194" cy="307" r="6.5" fill="#2c3e50"/><text x="193" y="294" fill="#2c3e50">長渴</text></g>
<g id="n-zixiao"><circle cx="57" cy="326" r="5" fill="#8b4f30"/><text x="57" y="315" fill="#8b4f30">紫霄时雨_苍穹要塞难民</text></g>
<g id="n-wxinqing"><circle cx="795" cy="146" r="3.5" fill="#40418f"/><text x="795" y="137" fill="#40418f">w新晴w</text></g>
<g id="n-shaohao"><circle cx="587" cy="218" r="3.5" fill="#f5a86b"/><text x="587" y="209" fill="#f5a86b">紹灝Lam</text></g>
<g id="n-touhang"><circle cx="650" cy="237" r="3.5" fill="#1a9c3c"/><text x="651" y="229" fill="#1a9c3c">投行老人</text></g>
<g id="n-mazhouyang"><circle cx="570" cy="245" r="3.5" fill="#6f9e7e"/><text x="570" y="236" fill="#6f9e7e">马周扬律师</text></g>
<g id="n-zhonghua"><circle cx="685" cy="274" r="3.5" fill="#b5625f"/><text x="686" y="267" fill="#b5625f">中华龙会</text></g>
<g id="n-geshou"><circle cx="494" cy="257" r="3.5" fill="#d97a56"/><text x="494" y="248" fill="#d97a56">歌手亚东</text></g>
<g id="n-mengjiala"><circle cx="446" cy="252" r="3.5" fill="#f57c1f"/><text x="446" y="244" fill="#f57c1f">孟加拉虎的BLOG</text></g>
<g id="n-renxing"><circle cx="368" cy="244" r="3.5" fill="#8e7d9a"/><text x="370" y="236" fill="#8e7d9a">人形高达奈叶</text></g>
<g id="n-roushi"><circle cx="265" cy="375" r="3.5" fill="#6e652e"/><text x="265" y="367" fill="#6e652e">肉食者Play</text></g>
<g id="n-wangwu"><circle cx="298" cy="404" r="3.5" fill="#f0506e"/><text x="298" y="395" fill="#f0506e">王唔悦</text></g>
<g id="n-huilang"><circle cx="246" cy="475" r="3.5" fill="#c8a08a"/><text x="246" y="467" fill="#c8a08a">灰狼多样性</text></g>
<g id="n-huangeming"><circle cx="373" cy="450" r="3.5" fill="#5c3fa0"/><text x="373" y="443" fill="#5c4fa0">换个名字好累人</text></g>
<g id="n-miaotiao"><circle cx="541" cy="452" r="3.5" fill="#b5625f"/><text x="541" y="443" fill="#b5625f">苗条的小实</text></g>
<g id="n-sazen"><circle cx="430" cy="441" r="3.5" fill="#f5a86b"/><text x="430" y="434" fill="#f5a86b">sazen</text></g>
<g id="n-jo"><circle cx="395" cy="421" r="3.5" fill="#e8845a"/><text x="393" y="413" fill="#e8845a">JoeYang</text></g>
<g id="n-qiandiao"><circle cx="417" cy="420" r="3.5" fill="#e0805a"/><text x="417" y="412" fill="#e0805a">前调回忆的晨曦</text></g>
<g id="n-haige"><text x="435" y="399" fill="#d8b4a6">嗨哥东大少</text></g>
<g id="n-women"><circle cx="839" cy="460" r="6" fill="#a5c83a"/><text x="839" y="449" fill="#a5c83a">我们认识</text></g>
<g id="n-top"><text x="562" y="6" fill="#b5d43a">上海沪侠_沪</text></g>
<text x="5" y="20" style="font-size:18px;font-weight:bold;text-anchor:start;fill:#333">微博转发关系网络</text>
</svg>
